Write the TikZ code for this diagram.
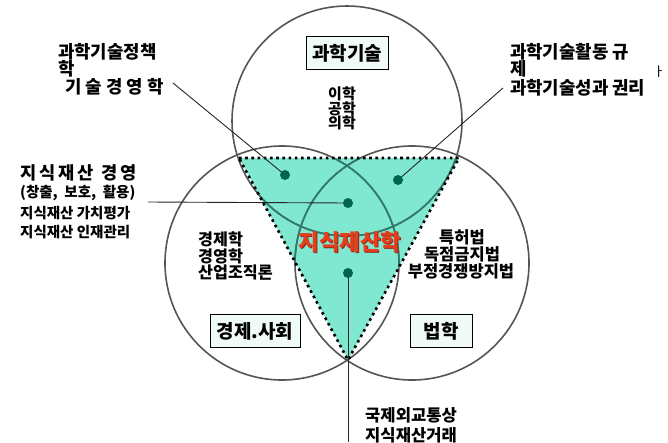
\documentclass[tikz,border=0pt]{standalone}
\usepackage{fontspec}
\setmainfont{Noto Sans CJK KR}[BoldFont={Noto Sans CJK KR Black}]
\definecolor{circgray}{RGB}{85,85,85}
\definecolor{arcteal}{RGB}{45,125,108}
\definecolor{trifill}{RGB}{128,232,208}
\definecolor{dotgreen}{RGB}{0,100,80}
\definecolor{boxfill}{RGB}{240,250,248}
\definecolor{redtxt}{RGB}{228,62,30}
\definecolor{redshadow}{RGB}{150,40,20}
\begin{document}
\begin{tikzpicture}[x=1pt,y=-1pt,
  circ/.style={draw=circgray,line width=1.6pt},
  inarc/.style={draw=arcteal,line width=1.6pt},
  tri/.style={draw=black,line width=2.6pt,dash pattern=on 2.6pt off 3.6pt},
  leader/.style={draw=black!85,line width=0.9pt},
  dotmark/.style={circle,fill=dotgreen,inner sep=0pt,minimum size=10pt},
  catbox/.style={draw=black,fill=boxfill,line width=0.8pt,font=\bfseries\fontsize{19}{22}\selectfont,minimum height=33pt,inner sep=0pt},
  bigtxt/.style={font=\bfseries\fontsize{17.8}{20}\selectfont,inner sep=0pt,anchor=west},
  midtxt/.style={font=\bfseries\fontsize{14.5}{16}\selectfont,inner sep=0pt,anchor=west},
  lctxt/.style={font=\bfseries\fontsize{16.2}{18}\selectfont,inner sep=0pt,anchor=west},
  ctrtxt/.style={font=\bfseries\fontsize{16.5}{18}\selectfont,inner sep=0pt},
  smalltxt/.style={font=\bfseries\fontsize{15}{16}\selectfont,inner sep=0pt},
  bottxt/.style={font=\bfseries\fontsize{16.6}{18}\selectfont,inner sep=0pt,anchor=west}
]
\path[use as bounding box] (0,0) rectangle (668,442);
\fill[white] (0,0) rectangle (668,442);
% geometry
\coordinate (cT) at (347,121);
\coordinate (cL) at (282,263);
\coordinate (cR) at (412,263);
\coordinate (tA) at (239,158);
\coordinate (tB) at (459,158);
\coordinate (tC) at (348,360);
% triangle fill
\fill[trifill] (tA) -- (tB) -- (tC) -- cycle;
% circles
\draw[circ] (cT) circle[radius=115pt];
\draw[circ] (cL) circle[radius=117pt];
\draw[circ] (cR) circle[radius=117pt];
\begin{scope}
  \clip (tA) -- (tB) -- (tC) -- cycle;
  \draw[inarc] (cT) circle[radius=115pt];
  \draw[inarc] (cL) circle[radius=117pt];
  \draw[inarc] (cR) circle[radius=117pt];
\end{scope}
\draw[tri] (tA) -- (tB) -- (tC) -- cycle;
% leader lines
\coordinate (p1) at (285,175);
\coordinate (p2) at (398,180);
\coordinate (p3) at (348,203);
\coordinate (p4) at (348,273);
\coordinate (e1) at (173,83);
\coordinate (e2) at (503,88);
\coordinate (e3) at (148,202);
\coordinate (e4) at (348,442);
\draw[leader] (e1) -- (p1);
\draw[leader] (e2) -- (p2);
\draw[leader] (e3) -- (p3);
\draw[leader] (p4) -- (e4);
\node[dotmark] (d1) at (p1) {};
\node[dotmark] (d2) at (p2) {};
\node[dotmark] (d3) at (p3) {};
\node[dotmark] (d4) at (p4) {};
% category boxes
\node[catbox,minimum width=82pt] (bsci) at (347,53) {과학기술};
\node[catbox,minimum width=90pt] (beco) at (255,331) {경제.사회};
\node[catbox,minimum width=62pt] (blaw) at (441,331) {법학};
% top circle contents
\node[smalltxt] (s1) at (342,94) {이학};
\node[smalltxt] (s2) at (342,108.5) {공학};
\node[smalltxt] (s3) at (342,123) {의학};
% left circle contents
\node[lctxt] (l1) at (198,239) {경제학};
\node[lctxt] (l2) at (198,256) {경영학};
\node[lctxt] (l3) at (198,273) {산업조직론};
% right circle contents
\node[ctrtxt] (r1) at (462,237) {특허법};
\node[ctrtxt] (r2) at (462,254) {독점금지법};
\node[ctrtxt] (r3) at (461,271) {부정경쟁방지법};
% centre title
\node[font=\bfseries\fontsize{22.4}{26}\selectfont,text=redshadow,inner sep=0pt] (titsh) at (351,243) {지식재산학};
\node[font=\bfseries\fontsize{22.4}{26}\selectfont,text=redtxt,inner sep=0pt] (tit) at (350,242) {지식재산학};
% top-left labels
\node[bigtxt] (tl1) at (58,52) {과학기술정책};
\node[bigtxt] (tl2) at (58,69) {학};
\node[bigtxt] (tl3) at (65,87) {기 술 경 영 학};
% top-right labels
\node[bigtxt] (tr1) at (510,52) {과학기술활동 규};
\node[bigtxt] (tr2) at (510,69) {제};
\node[bigtxt] (tr3) at (510,88) {과학기술성과 권리};
\node[font=\fontsize{13}{15}\selectfont,inner sep=0pt] (frag) at (659,72) {ㅏ};
% left middle labels
\node[font=\bfseries\fontsize{17.6}{20}\selectfont,inner sep=0pt,anchor=west] (lm1) at (20,173) {지\,식\,재\,산~~경\,영};
\node[midtxt] (lm2) at (20,193) {(창출,~~보호,~~활용)};
\node[midtxt] (lm3) at (20,213) {지식재산~가치평가};
\node[midtxt] (lm4) at (20,232) {지식재산~인재관리};
% bottom labels
\node[bottxt] (b1) at (365,415) {국제외교통상};
\node[bottxt] (b2) at (365,435) {지식재산거래};
\end{tikzpicture}
\end{document}
